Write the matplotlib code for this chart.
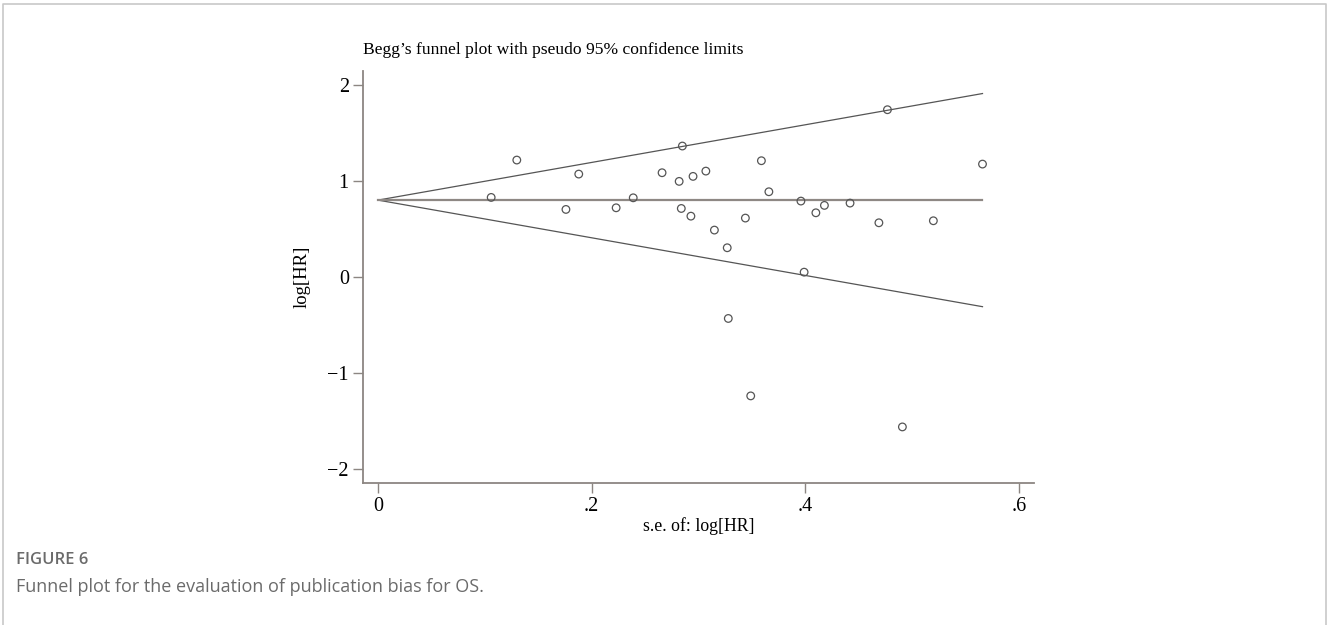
import matplotlib
matplotlib.use("Agg")
import matplotlib.pyplot as plt
import numpy as np

# standard errors and log hazard ratios of the included studies
se = [0.106, 0.130, 0.176, 0.188, 0.223, 0.239, 0.266, 0.282, 0.284, 0.285,
      0.293, 0.295, 0.307, 0.315, 0.327, 0.328, 0.344, 0.349, 0.359, 0.366,
      0.396, 0.399, 0.410, 0.418, 0.442, 0.469, 0.477, 0.491, 0.520, 0.566]
loghr = [0.830, 1.219, 0.705, 1.073, 0.722, 0.826, 1.087, 0.997, 0.715, 1.365,
         0.635, 1.049, 1.104, 0.490, 0.306, -0.430, 0.615, -1.236, 1.212, 0.889,
         0.792, 0.052, 0.670, 0.747, 0.771, 0.566, 1.743, -1.559, 0.587, 1.177]
pooled = 0.802

xticks = [0, 0.2, 0.4, 0.6]
xticklabels = ["0", ".2", ".4", ".6"]
yticks = [-2, -1, 0, 1, 2]
yticklabels = ["\u22122", "\u22121", "0", "1", "2"]

serif = ["Liberation Serif", "DejaVu Serif"]
axis_grey = "#8c8682"

fig = plt.figure(figsize=(13.28, 6.25), dpi=100)
ax = fig.add_axes([0.2731, 0.2267, 0.5055, 0.6597])

# pseudo 95% confidence limits
s_max = max(se)
s_line = np.array([0, s_max])
ax.plot(s_line, pooled + 1.96 * s_line, color="#555555", lw=0.9)
ax.plot(s_line, pooled - 1.96 * s_line, color="#555555", lw=0.9)
ax.plot(s_line, [pooled, pooled], color="#8e8884", lw=1.6)

ax.scatter(se, loghr, s=30, facecolors="none", edgecolors="#555555", linewidths=0.9, zorder=3)

ax.set_xlim(-0.0143, 0.6142)
ax.set_ylim(-2.146, 2.146)
ax.set_xticks(xticks)
ax.set_xticklabels(xticklabels)
ax.set_yticks(yticks)
ax.set_yticklabels(yticklabels)

for side in ["top", "right"]:
    ax.spines[side].set_visible(False)
for side in ["left", "bottom"]:
    ax.spines[side].set_color(axis_grey)
    ax.spines[side].set_linewidth(1.3)

ax.tick_params(axis="both", direction="out", length=7, width=1.0, color=axis_grey,
               labelsize=14.5, pad=3)
for lab in ax.get_xticklabels() + ax.get_yticklabels():
    lab.set_family(serif)
    lab.set_color("black")

ax.set_xlabel("s.e. of: log[HR]", family=serif, fontsize=12.8, labelpad=1)
ax.set_ylabel("log[HR]", family=serif, fontsize=13.5, labelpad=12)

fig.text(363 / 1328, 1 - 50 / 625, "Begg\u2019s funnel plot with pseudo 95% confidence limits",
         family=serif, fontsize=12.6, ha="left", va="center")

# caption below the figure
fig.text(16 / 1328, 1 - 560 / 625, "FIGURE 6", family=["Open Sans", "DejaVu Sans"],
         fontsize=12, fontweight="semibold", color="#6b6b6b", ha="left", va="center")
fig.text(16 / 1328, 1 - 587 / 625, "Funnel plot for the evaluation of publication bias for OS.",
         family=["Open Sans", "DejaVu Sans"], fontsize=13, color="#6b6b6b", ha="left", va="center")

# light panel frame
fx = [3 / 1328, 3 / 1328, 1326 / 1328, 1326 / 1328]
fy = [0, 1 - 4 / 625, 1 - 4 / 625, 0]
fig.add_artist(plt.Line2D(fx, fy, transform=fig.transFigure, color="#c8c8c8", lw=1.2))

fig.savefig("out.png", dpi=100)
